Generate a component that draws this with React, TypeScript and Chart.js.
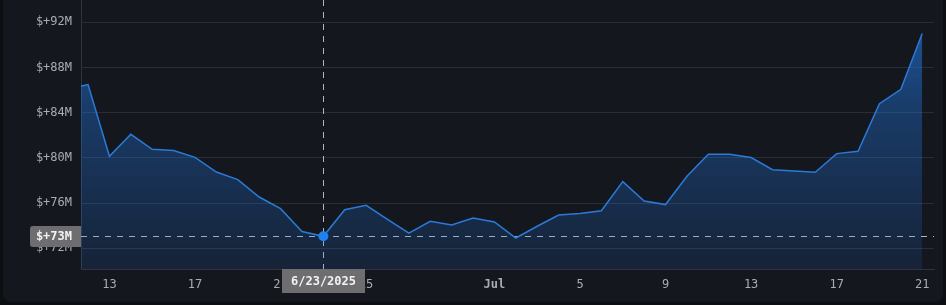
import React, { useEffect, useRef } from "react";
import { Chart, registerables } from "chart.js";

Chart.register(...registerables);

const dates = [
  "2025-06-11", "2025-06-12", "2025-06-13", "2025-06-14", "2025-06-15", "2025-06-16",
  "2025-06-17", "2025-06-18", "2025-06-19", "2025-06-20", "2025-06-21", "2025-06-22",
  "2025-06-23", "2025-06-24", "2025-06-25", "2025-06-26", "2025-06-27", "2025-06-28",
  "2025-06-29", "2025-06-30", "2025-07-01", "2025-07-02", "2025-07-03", "2025-07-04",
  "2025-07-05", "2025-07-06", "2025-07-07", "2025-07-08", "2025-07-09", "2025-07-10",
  "2025-07-11", "2025-07-12", "2025-07-13", "2025-07-14", "2025-07-15", "2025-07-16",
  "2025-07-17", "2025-07-18", "2025-07-19", "2025-07-20", "2025-07-21",
];

const values = [
  86.07, 86.49, 80.14, 82.09, 80.76, 80.65,
  80.05, 78.75, 78.08, 76.54, 75.51, 73.48,
  73.06, 75.42, 75.81, 74.55, 73.35, 74.39,
  74.06, 74.68, 74.33, 72.91, 73.95, 74.95,
  75.07, 75.33, 77.9, 76.19, 75.87, 78.37,
  80.32, 80.32, 80.03, 78.96, 78.84, 78.73,
  80.38, 80.58, 84.8, 86.07, 91.0,
];

const tickDates = [
  "2025-06-13", "2025-06-17", "2025-06-21", "2025-06-25", "2025-07-01",
  "2025-07-05", "2025-07-09", "2025-07-13", "2025-07-17", "2025-07-21",
];
const tickLabels = ["13", "17", "21", "25", "Jul", "5", "9", "13", "17", "21"];
const boldTickLabels = ["Jul"];

const yStep = 4;
const yMin = 70.17;
const yMax = 93.97;
const xMinDay = 11.67;
const xMaxDay = 51.55;

const crosshairIndex = 12;
const crosshairDateLabel = "6/23/2025";
const crosshairValueLabel = "$+73M";

const BASE = Date.UTC(2025, 5, 0);
function dayNum(s: string): number {
  const [y, m, d] = s.split("-").map(Number);
  return (Date.UTC(y, m - 1, d) - BASE) / 86400000;
}

const FONT = "'DejaVu Sans Mono', 'Liberation Mono', monospace";

export default function App() {
  const ref = useRef<HTMLCanvasElement | null>(null);

  useEffect(() => {
    const canvas = ref.current;
    if (!canvas) return;
    const points = dates.map((d, i) => ({ x: dayNum(d), y: values[i] }));
    const tickDays = tickDates.map(dayNum);

    const crosshair = {
      id: "crosshair",
      beforeDatasetsDraw(chart: any) {
        const { ctx, chartArea, scales } = chart;
        const px = scales.x.getPixelForValue(points[crosshairIndex].x);
        const py = scales.y.getPixelForValue(points[crosshairIndex].y);
        ctx.save();
        ctx.strokeStyle = "#b4b7c0";
        ctx.lineWidth = 1;
        ctx.setLineDash([6, 6]);
        ctx.beginPath();
        ctx.moveTo(Math.round(px) + 0.5, 0);
        ctx.lineTo(Math.round(px) + 0.5, chartArea.bottom);
        ctx.stroke();
        ctx.beginPath();
        ctx.moveTo(chartArea.left, Math.round(py) + 0.5);
        ctx.lineTo(chartArea.right, Math.round(py) + 0.5);
        ctx.stroke();
        ctx.restore();
      },
      afterDraw(chart: any) {
        const { ctx, chartArea, scales } = chart;
        const px = scales.x.getPixelForValue(points[crosshairIndex].x);
        const py = scales.y.getPixelForValue(points[crosshairIndex].y);
        ctx.save();
        ctx.fillStyle = "#6e6e70";
        const bx = 30, bw = chartArea.left - 30, bh = 21;
        const by = Math.round(py) - 10;
        ctx.beginPath();
        ctx.roundRect(bx, by, bw, bh, [3, 0, 0, 3]);
        ctx.fill();
        const xw = 83, xh = 24;
        const xx = Math.round(px) - 41;
        ctx.fillRect(xx, chartArea.bottom, xw, xh);
        ctx.fillStyle = "#f2f2f2";
        ctx.font = `bold 12px ${FONT}`;
        ctx.textBaseline = "middle";
        ctx.textAlign = "right";
        ctx.fillText(crosshairValueLabel, chartArea.left - 9, by + bh / 2 + 0.5);
        ctx.textAlign = "center";
        ctx.fillText(crosshairDateLabel, Math.round(px) + 0.5, chartArea.bottom + xh / 2 + 1);
        ctx.restore();
      },
    };

    const chart = new Chart(canvas, {
      type: "line",
      data: {
        datasets: [
          {
            data: points,
            borderColor: "#2a7bd8",
            borderWidth: 1.5,
            tension: 0,
            fill: "start",
            backgroundColor: (c: any) => {
              const { chart: ch } = c;
              const area = ch.chartArea;
              if (!area) return "rgba(33,120,220,0.3)";
              const g = ch.ctx.createLinearGradient(0, area.top, 0, area.bottom);
              g.addColorStop(0, "rgba(33,120,225,0.7)");
              g.addColorStop(0.4, "rgba(33,120,225,0.38)");
              g.addColorStop(1, "rgba(33,120,225,0.13)");
              return g;
            },
            pointRadius: (c: any) => (c.dataIndex === crosshairIndex ? 5 : 0),
            pointHoverRadius: 0,
            pointBackgroundColor: "#1f80ee",
            pointBorderWidth: 0,
          },
        ],
      },
      options: {
        animation: false,
        responsive: false,
        events: [],
        layout: { padding: { top: 0, right: 12, left: 0, bottom: 0 } },
        plugins: { legend: { display: false }, tooltip: { enabled: false } },
        scales: {
          x: {
            type: "linear",
            min: xMinDay,
            max: xMaxDay,
            afterBuildTicks: (s: any) => {
              s.ticks = tickDays.map((v) => ({ value: v }));
            },
            afterFit: (s: any) => {
              s.height = 36;
              s.paddingLeft = 0;
              s.paddingRight = 0;
            },
            grid: { display: false, drawTicks: false },
            border: { display: true, color: "#30333d" },
            ticks: {
              autoSkip: false,
              maxRotation: 0,
              padding: 9,
              color: "#a9acb5",
              font: (c: any) => {
                const i = tickDays.indexOf(c.tick?.value);
                const bold = i >= 0 && boldTickLabels.includes(tickLabels[i]);
                return { family: FONT, size: 12, weight: bold ? "bold" : "normal" };
              },
              callback: (v: any) => {
                const i = tickDays.indexOf(Number(v));
                return i >= 0 ? tickLabels[i] : "";
              },
            },
          },
          y: {
            type: "linear",
            min: yMin,
            max: yMax,
            afterFit: (s: any) => {
              s.width = 81;
              s.paddingTop = 0;
              s.paddingBottom = 0;
            },
            grid: { color: "#2a2d36", drawTicks: false },
            border: { display: true, color: "#30333d" },
            ticks: {
              stepSize: yStep,
              includeBounds: false,
              padding: 9,
              color: "#a9acb5",
              font: { family: FONT, size: 12 },
              callback: (v: any) => `$+${v}M`,
            },
          },
        },
      },
      plugins: [crosshair],
    } as any);

    return () => chart.destroy();
  }, []);

  return (
    <div style={{ position: "fixed", inset: 0, background: "#0d0e12", overflow: "hidden" }}>
      <div
        style={{
          position: "absolute",
          left: 3,
          right: 3,
          top: -10,
          bottom: 3,
          borderRadius: 8,
          background: "#15171f",
        }}
      />
      <canvas
        ref={ref}
        width={946}
        height={305}
        style={{ position: "absolute", left: 0, top: 0, width: 946, height: 305 }}
      />
    </div>
  );
}
